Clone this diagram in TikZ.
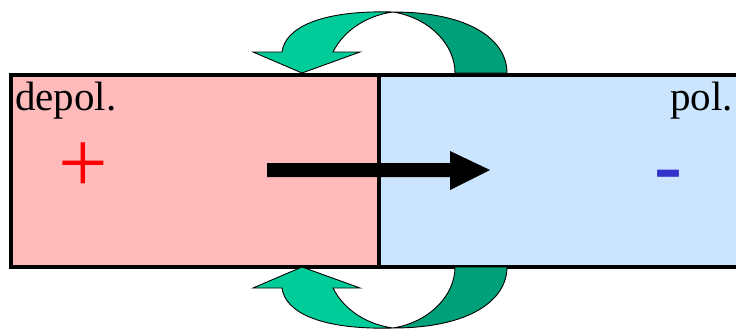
\documentclass[tikz,border=0pt]{standalone}
\usepackage{fontspec}
\setmainfont{Liberation Serif}
\definecolor{pinkfill}{RGB}{255,187,187}
\definecolor{bluefill}{RGB}{204,229,255}
\definecolor{greenlight}{RGB}{0,204,153}
\definecolor{greendark}{RGB}{0,160,122}
\definecolor{minusblue}{RGB}{51,51,204}
\newcommand\greentwist{%
  \fill[greendark,draw=black,line width=0.9] (393,12) .. controls (470,12) and (507,40) .. (507,73)
    -- (455,73) .. controls (455,45) and (430,18) .. (393,12) -- cycle;
  \fill[greenlight,draw=black,line width=0.9] (393,12) .. controls (320,10) and (285,28) .. (282,52)
    -- (253,52) -- (302,73) -- (360,52) -- (333,52)
    .. controls (345,28) and (370,15) .. (393,12) -- cycle;
}
\begin{document}
\begin{tikzpicture}[x=1pt,y=-1pt,
  cell/.style={line width=4,draw=black},
  lbl/.style={inner sep=0,font=\fontsize{41}{41}\selectfont}]
\useasboundingbox (0,0) rectangle (736,332);
\begin{scope}
\clip (0,0) rectangle (736,332);
\fill[pinkfill] (10.5,74.5) rectangle (379,266.5);
\fill[bluefill] (379,74.5) rectangle (745,266.5);
\draw[cell] (745,74.5) -- (10.5,74.5) -- (10.5,266.5) -- (745,266.5);
\draw[cell] (379,74.5) -- (379,266.5);
\end{scope}
\greentwist
\begin{scope}[shift={(0,340)},yscale=-1]
\greentwist
\end{scope}
\fill[black] (267,163) -- (450,163) -- (450,151) -- (490,170) -- (450,190) -- (450,177) -- (267,177) -- cycle;
\node[lbl,anchor=base west] (depol) at (15,110) {depol.};
\node[lbl,anchor=base east] (pol) at (733,110) {pol.};
\node[inner sep=0,anchor=base,text=red,font=\fontsize{88}{88}\selectfont] (plus) at (83,192) {+};
\node[inner sep=0,anchor=base,text=minusblue,font=\bfseries\fontsize{84}{84}\selectfont] (minus) at (668.5,193.5) {-};
\end{tikzpicture}
\end{document}
